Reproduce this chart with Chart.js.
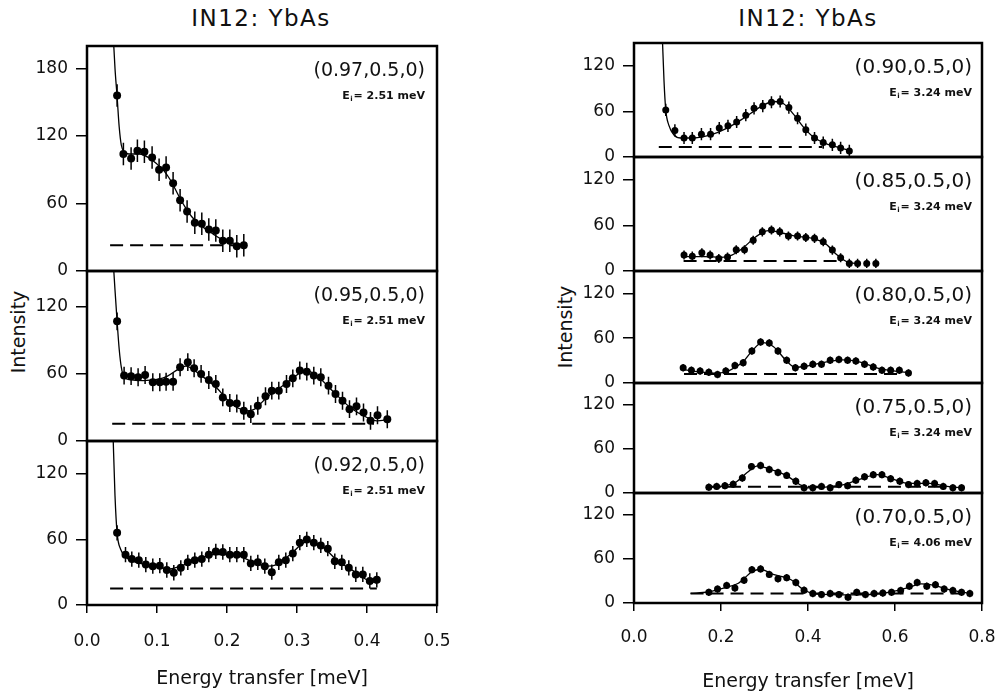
<!DOCTYPE html>
<html>
<head>
<meta charset="utf-8">
<title>IN12: YbAs</title>
<script src="https://cdn.jsdelivr.net/npm/chart.js@4.4.1/dist/chart.umd.min.js"></script>
<style>
  body { margin: 0; background: #fff; }
  #fig { position: relative; width: 1004px; height: 694px; overflow: hidden; font-family: "DejaVu Sans", sans-serif; color: #111; }
  #fig canvas { position: absolute; }
  .title { position: absolute; top: 7px; font-size: 23px; line-height: 1; letter-spacing: 1.5px; transform: translateX(-50%); white-space: nowrap; }
  .ylab { position: absolute; font-size: 19px; line-height: 1; transform: translate(-50%, -50%) rotate(-90deg); white-space: nowrap; }
</style>
</head>
<body>
<div id="fig">
  <div class="title" style="left:261px">IN12: YbAs</div>
  <div class="title" style="left:808px">IN12: YbAs</div>
  <div class="ylab" style="left:18px; top:332px">Intensity</div>
  <div class="ylab" style="left:565px; top:327px">Intensity</div>
</div>
<script>
// axes
const xTicksLeft = [0, 0.1, 0.2, 0.3, 0.4, 0.5];
const xTicksRight = [0, 0.2, 0.4, 0.6, 0.8];
const yTicksTall = [0, 60, 120, 180];
const yTicks = [0, 60, 120];

// (0.97,0.5,0)  Ei = 2.51 meV
const e097 = [0.043, 0.052, 0.063, 0.072, 0.082, 0.093, 0.103, 0.113, 0.123, 0.133, 0.143, 0.154, 0.164, 0.174, 0.184, 0.194, 0.204, 0.214, 0.224];
const i097 = [156, 104, 100, 107, 106, 101, 90, 92, 78, 63, 53, 43, 42, 37, 36, 27, 27, 22, 23];
const fitE097 = [0.037, 0.040, 0.043, 0.046, 0.049, 0.053, 0.06, 0.075, 0.09, 0.10, 0.11, 0.12, 0.13, 0.14, 0.15, 0.16, 0.17, 0.18, 0.19, 0.20, 0.21, 0.224];
const fitI097 = [215, 180, 155, 128, 112, 106, 104, 104, 100, 95, 89, 80, 68, 57, 48, 42, 37, 33, 29, 26.5, 24.5, 23];
const baseE097 = [0.033, 0.224];
const baseI097 = [23, 23];

// (0.95,0.5,0)  Ei = 2.51 meV
const e095 = [0.043, 0.053, 0.063, 0.073, 0.083, 0.094, 0.104, 0.113, 0.123, 0.133, 0.144, 0.153, 0.163, 0.174, 0.184, 0.194, 0.204, 0.214, 0.224, 0.234, 0.244, 0.255, 0.264, 0.274, 0.285, 0.294, 0.304, 0.314, 0.324, 0.334, 0.345, 0.355, 0.365, 0.375, 0.385, 0.395, 0.405, 0.415, 0.429];
const i095 = [107, 58.5, 58, 57, 59, 52.5, 52.5, 53, 53, 66, 70.5, 65, 60, 54.5, 51, 39, 34, 33.5, 27, 24, 31.5, 40, 45, 45, 51, 56, 63, 62, 58.5, 57, 49.5, 42, 36, 28.5, 31, 25.5, 18, 23, 19.5];
const fitE095 = [0.037, 0.040, 0.043, 0.046, 0.049, 0.053, 0.06, 0.08, 0.10, 0.115, 0.13, 0.141, 0.16, 0.186, 0.205, 0.229, 0.238, 0.257, 0.281, 0.305, 0.314, 0.328, 0.352, 0.376, 0.40, 0.414, 0.431];
const fitI095 = [165, 135, 107, 82, 66, 57, 55, 54, 55, 58, 64, 67, 60, 47, 34, 27, 28, 39, 50, 61, 63, 58.5, 44, 30, 21, 18, 19];
const baseE095 = [0.036, 0.41];
const baseI095 = [15.5, 15.5];

// (0.92,0.5,0)  Ei = 2.51 meV
const e092 = [0.043, 0.055, 0.064, 0.074, 0.084, 0.094, 0.104, 0.114, 0.124, 0.134, 0.144, 0.154, 0.164, 0.174, 0.184, 0.194, 0.204, 0.214, 0.224, 0.234, 0.244, 0.254, 0.264, 0.274, 0.284, 0.294, 0.304, 0.314, 0.324, 0.334, 0.344, 0.354, 0.364, 0.374, 0.384, 0.394, 0.404, 0.414];
const i092 = [66, 46, 42, 41, 37, 35.5, 36, 32, 29.5, 34, 39, 41, 42, 46, 49, 48.5, 46, 46, 46, 38, 39, 35.5, 30, 39, 41, 47, 57, 60, 57, 54.5, 51.5, 40, 39, 34, 28, 28, 22, 23];
const fitE092 = [0.037, 0.040, 0.043, 0.048, 0.057, 0.076, 0.10, 0.119, 0.133, 0.152, 0.181, 0.205, 0.219, 0.238, 0.257, 0.271, 0.29, 0.31, 0.319, 0.338, 0.357, 0.381, 0.40, 0.414];
const fitI092 = [160, 100, 66, 51, 43, 38, 35, 33, 35.5, 40, 46, 46, 44.5, 39, 35.5, 37, 46, 57, 58.5, 52.5, 41, 31, 23, 20];
const baseE092 = [0.033, 0.414];
const baseI092 = [15, 15];

// (0.90,0.5,0)  Ei = 3.24 meV
const e090 = [0.073, 0.094, 0.115, 0.134, 0.155, 0.176, 0.196, 0.216, 0.236, 0.257, 0.276, 0.296, 0.316, 0.336, 0.356, 0.376, 0.395, 0.415, 0.435, 0.456, 0.475, 0.495];
const i090 = [62, 35, 25, 25, 30, 30, 38, 41, 46, 55, 64, 67, 72, 73, 65, 51, 36, 25, 19, 16, 12, 8];
const fitE090 = [0.065, 0.069, 0.073, 0.08, 0.092, 0.108, 0.138, 0.176, 0.214, 0.252, 0.291, 0.321, 0.344, 0.367, 0.39, 0.413, 0.444, 0.475, 0.495];
const fitI090 = [160, 100, 62, 42, 29, 25, 25, 29, 38, 51, 66, 73, 70, 56, 39, 26, 17, 12, 8.5];
const baseE090 = [0.057, 0.433];
const baseI090 = [13, 13];

// (0.85,0.5,0)  Ei = 3.24 meV
const e085 = [0.115, 0.134, 0.156, 0.175, 0.195, 0.215, 0.235, 0.254, 0.274, 0.295, 0.316, 0.335, 0.355, 0.376, 0.395, 0.415, 0.435, 0.456, 0.475, 0.495, 0.514, 0.535, 0.556];
const i085 = [21, 19.5, 24, 21, 16.5, 18.5, 28, 28, 40.5, 51.5, 54, 51.5, 46, 46, 44, 43, 38.5, 27.5, 17.5, 10, 10, 10, 10];
const fitE085 = [0.115, 0.16, 0.2, 0.225, 0.25, 0.28, 0.31, 0.34, 0.37, 0.41, 0.44, 0.465, 0.49, 0.51];
const fitI085 = [19, 19, 18, 21, 30, 45, 53, 50, 46, 43, 36, 22, 12, 10];
const baseE085 = [0.114, 0.47];
const baseI085 = [13, 13];

// (0.80,0.5,0)  Ei = 3.24 meV
const e080 = [0.113, 0.132, 0.152, 0.172, 0.192, 0.211, 0.232, 0.251, 0.271, 0.291, 0.311, 0.331, 0.351, 0.371, 0.391, 0.411, 0.431, 0.451, 0.471, 0.491, 0.51, 0.53, 0.55, 0.57, 0.59, 0.61, 0.631];
const i080 = [20.5, 17, 16, 14.5, 11.5, 16, 23.5, 27, 43, 55, 53.5, 43, 30.5, 20.5, 22.5, 25, 25, 30.5, 31.5, 30.5, 29.5, 25, 21.5, 17, 17, 17, 13.5];
const fitE080 = [0.113, 0.15, 0.19, 0.22, 0.25, 0.27, 0.295, 0.32, 0.35, 0.37, 0.40, 0.44, 0.48, 0.52, 0.56, 0.60, 0.631];
const fitI080 = [18, 15, 13, 17, 28, 42, 54, 49, 30, 21, 23, 28, 31, 28, 20, 16, 14];
const baseE080 = [0.115, 0.62];
const baseI080 = [12, 12];

// (0.75,0.5,0)  Ei = 3.24 meV
const e075 = [0.172, 0.19, 0.209, 0.228, 0.249, 0.27, 0.291, 0.311, 0.331, 0.351, 0.372, 0.391, 0.411, 0.431, 0.451, 0.471, 0.491, 0.51, 0.53, 0.55, 0.57, 0.59, 0.611, 0.631, 0.651, 0.671, 0.691, 0.711, 0.733, 0.753];
const i075 = [8, 9, 10, 12, 20.5, 36, 37.5, 32, 28, 24, 16, 7, 7, 9, 7, 11.5, 10, 17.5, 22, 25, 25, 19.5, 16, 11.5, 13, 14, 13, 9, 7, 7];
const fitE075 = [0.172, 0.21, 0.235, 0.26, 0.285, 0.31, 0.35, 0.38, 0.40, 0.44, 0.48, 0.52, 0.56, 0.59, 0.63, 0.68, 0.72, 0.753];
const fitI075 = [8, 10, 15, 28, 37, 33, 24, 12, 7, 8, 11, 19, 25, 20, 13, 13, 9, 7];
const baseE075 = [0.17, 0.72];
const baseI075 = [8.5, 8.5];

// (0.70,0.5,0)  Ei = 4.06 meV
const e070 = [0.172, 0.192, 0.213, 0.232, 0.253, 0.271, 0.291, 0.311, 0.331, 0.351, 0.372, 0.391, 0.411, 0.431, 0.451, 0.471, 0.492, 0.512, 0.532, 0.552, 0.572, 0.592, 0.613, 0.633, 0.651, 0.673, 0.693, 0.713, 0.733, 0.753, 0.772];
const i070 = [14.5, 19, 24, 20.5, 31, 45.5, 46.5, 39, 33, 34.5, 28, 17.5, 13, 11.5, 13, 11.5, 8, 14.5, 11.5, 13, 13.5, 14.5, 17, 23, 28, 23, 25, 19, 17, 14.5, 13];
const fitE070 = [0.13, 0.17, 0.21, 0.24, 0.27, 0.29, 0.32, 0.36, 0.39, 0.42, 0.5, 0.58, 0.63, 0.66, 0.69, 0.72, 0.772];
const fitI070 = [13, 15, 21, 27, 42, 46, 39, 32, 18, 12, 11, 14, 21, 26, 24, 19, 13];
const baseE070 = [0.13, 0.766];
const baseI070 = [13, 13];

Chart.defaults.font.family = '"DejaVu Sans", sans-serif';
Chart.defaults.color = '#111';

const fig = document.getElementById('fig');

// column geometry (chart area: left 87..437 / 634..982)
const colL = { left: 0, width: 480, yWidth: 87, padRight: 43, xmax: 0.5, xTicks: xTicksLeft, tickPad: 18, titlePad: 7, inset: 12, qSize: 19, radius: 4 };
const colR = { left: 540, width: 484, yWidth: 94, padRight: 42, xmax: 0.8, xTicks: xTicksRight, tickPad: 16, titlePad: 2, inset: 10, qSize: 20, radius: 3.5 };

const pts = (xs, ys) => xs.map((x, k) => ({ x: x, y: ys[k] }));

const panels = [
  { col: colL, top: 46,  bottom: 271, ymax: 200, yt: yTicksTall, E: e097, I: i097, fE: fitE097, fI: fitI097, bE: baseE097, bI: baseI097, err: 10, q: '(0.97,0.5,0)', ei: '2.51' },
  { col: colL, top: 271, bottom: 441, ymax: 152, yt: yTicks, E: e095, I: i095, fE: fitE095, fI: fitI095, bE: baseE095, bI: baseI095, err: 8, q: '(0.95,0.5,0)', ei: '2.51' },
  { col: colL, top: 441, bottom: 605, ymax: 150, yt: yTicks, E: e092, I: i092, fE: fitE092, fI: fitI092, bE: baseE092, bI: baseI092, err: 7, q: '(0.92,0.5,0)', ei: '2.51', xAxis: true },
  { col: colR, top: 43,  bottom: 157, ymax: 150, yt: yTicks, E: e090, I: i090, fE: fitE090, fI: fitI090, bE: baseE090, bI: baseI090, err: 8, q: '(0.90,0.5,0)', ei: '3.24' },
  { col: colR, top: 157, bottom: 271, ymax: 150, yt: yTicks, E: e085, I: i085, fE: fitE085, fI: fitI085, bE: baseE085, bI: baseI085, err: 6, q: '(0.85,0.5,0)', ei: '3.24' },
  { col: colR, top: 271, bottom: 383, ymax: 150, yt: yTicks, E: e080, I: i080, fE: fitE080, fI: fitI080, bE: baseE080, bI: baseI080, err: 5, q: '(0.80,0.5,0)', ei: '3.24' },
  { col: colR, top: 383, bottom: 493, ymax: 150, yt: yTicks, E: e075, I: i075, fE: fitE075, fI: fitI075, bE: baseE075, bI: baseI075, err: 5, q: '(0.75,0.5,0)', ei: '3.24' },
  { col: colR, top: 493, bottom: 603, ymax: 150, yt: yTicks, E: e070, I: i070, fE: fitE070, fI: fitI070, bE: baseE070, bI: baseI070, err: 5, q: '(0.70,0.5,0)', ei: '4.06', xAxis: true }
];

// box round each panel
const frame = {
  id: 'frame',
  afterDraw(chart) {
    const { ctx, chartArea: a } = chart;
    ctx.save();
    ctx.strokeStyle = '#000';
    ctx.lineWidth = 2.5;
    ctx.strokeRect(a.left, a.top, a.width, a.height);
    ctx.restore();
  }
};

// vertical error bars on the data points (dataset 0)
const errorBars = {
  id: 'errorBars',
  afterDatasetsDraw(chart) {
    const ds = chart.data.datasets[0];
    const { ctx, chartArea: a, scales } = chart;
    ctx.save();
    ctx.beginPath();
    ctx.rect(a.left, a.top, a.width, a.height);
    ctx.clip();
    ctx.beginPath();
    ds.data.forEach(p => {
      const px = scales.x.getPixelForValue(p.x);
      ctx.moveTo(px, scales.y.getPixelForValue(p.y - ds.errorBar));
      ctx.lineTo(px, scales.y.getPixelForValue(p.y + ds.errorBar));
    });
    ctx.strokeStyle = '#000';
    ctx.lineWidth = 1.5;
    ctx.stroke();
    ctx.restore();
  }
};

// (h,k,l) and incident energy in the upper right corner
const panelText = {
  id: 'panelText',
  afterDraw(chart, args, o) {
    const { ctx, chartArea: a } = chart;
    const x = a.right - o.inset;
    ctx.save();
    ctx.fillStyle = '#111';
    ctx.textAlign = 'right';
    ctx.textBaseline = 'middle';
    ctx.font = o.size + 'px "DejaVu Sans"';
    ctx.fillText(o.q, x, a.top + 25);
    ctx.font = 'bold 11px "DejaVu Sans"';
    const tail = '= ' + o.ei + ' meV';
    ctx.fillText(tail, x, a.top + 50);
    let w = ctx.measureText(tail).width + 1;
    ctx.font = 'bold 7px "DejaVu Sans"';
    ctx.fillText('i', x - w, a.top + 53);
    w += ctx.measureText('i').width + 0.5;
    ctx.font = 'bold 11px "DejaVu Sans"';
    ctx.fillText('E', x - w, a.top + 50);
    ctx.restore();
  }
};

function makePanel(p) {
  const c = p.col;
  const padTop = 20, padBot = 20, xH = 92;
  const canvas = document.createElement('canvas');
  canvas.width = c.width;
  canvas.height = (p.bottom - p.top) + padTop + (p.xAxis ? xH : padBot);
  canvas.style.left = c.left + 'px';
  canvas.style.top = (p.top - padTop) + 'px';
  fig.appendChild(canvas);

  new Chart(canvas, {
    type: 'line',
    data: {
      datasets: [
        {
          data: pts(p.E, p.I),
          showLine: false,
          pointRadius: c.radius,
          pointBackgroundColor: '#000',
          pointBorderColor: '#000',
          pointBorderWidth: 0,
          errorBar: p.err
        },
        {
          data: pts(p.fE, p.fI),
          borderColor: '#000',
          borderWidth: 1.3,
          pointRadius: 0,
          cubicInterpolationMode: 'monotone'
        },
        {
          data: pts(p.bE, p.bI),
          borderColor: '#000',
          borderWidth: 2,
          borderDash: [13, 7],
          pointRadius: 0
        }
      ]
    },
    options: {
      responsive: false,
      animation: false,
      events: [],
      layout: { padding: { top: padTop, bottom: p.xAxis ? 0 : padBot, left: 0, right: c.padRight } },
      scales: {
        x: {
          type: 'linear',
          min: 0,
          max: c.xmax,
          display: !!p.xAxis,
          afterBuildTicks: s => { s.ticks = c.xTicks.map(v => ({ value: v })); },
          afterFit: s => { s.height = p.xAxis ? xH : 0; },
          grid: { drawOnChartArea: false, drawTicks: true, tickLength: 8, color: '#000', lineWidth: 1.5 },
          border: { display: false },
          ticks: { padding: c.tickPad, color: '#111', font: { size: 17 }, callback: v => v.toFixed(1) },
          title: { display: true, text: 'Energy transfer [meV]', color: '#111', font: { size: 19 }, padding: { top: 0, bottom: c.titlePad } }
        },
        y: {
          type: 'linear',
          min: 0,
          max: p.ymax,
          afterBuildTicks: s => { s.ticks = p.yt.map(v => ({ value: v })); },
          afterFit: s => { s.width = c.yWidth; },
          grid: { drawOnChartArea: false, drawTicks: true, tickLength: 11, color: '#000', lineWidth: 1.5 },
          border: { display: false },
          ticks: { padding: 8, color: '#111', font: { size: 17 } }
        }
      },
      plugins: {
        legend: { display: false },
        tooltip: { enabled: false },
        panelText: { q: p.q, ei: p.ei, inset: c.inset, size: c.qSize }
      }
    },
    plugins: [errorBars, frame, panelText]
  });
}

panels.forEach(makePanel);
</script>
</body>
</html>
